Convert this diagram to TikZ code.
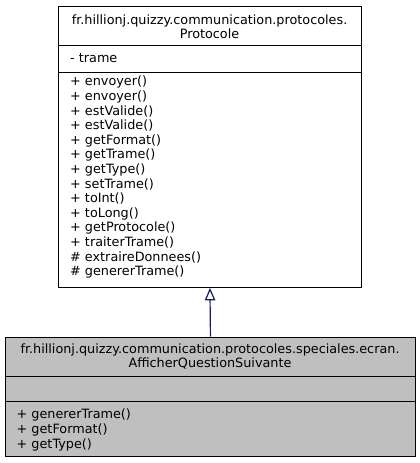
\documentclass[tikz,border=0pt]{standalone}
\usepackage{fontspec}
\setmainfont{DejaVu Sans}
\usetikzlibrary{arrows.meta}
\definecolor{edgeblue}{HTML}{191970}
\definecolor{derivfill}{HTML}{BFBFBF}
\tikzset{
  classbox/.style={draw=black, line width=0.9pt, anchor=north west, inner sep=0pt},
  sep/.style={draw=black, line width=0.9pt},
  txt/.style={font=\fontsize{12.8}{14.6}\selectfont, inner sep=0pt},
  members/.style={txt, align=left, anchor=north west},
  title/.style={font=\fontsize{12.8}{14.2}\selectfont, inner sep=0pt, align=center},
  inherit/.style={draw=edgeblue, line width=1.2pt, -{Triangle[open, length=12.5pt, width=10.5pt, fill=white]}},
}
\begin{document}
\begin{tikzpicture}[x=1pt, y=-1pt]
\useasboundingbox (0,0) rectangle (420,463);
% base class
\node[classbox, minimum width=303pt, minimum height=281.5pt] (base) at (58,5.5) {};
\draw[sep] (58,45) -- (361,45);
\draw[sep] (58,72.7) -- (361,72.7);
\node[title] (basetitle) at (209.5,26.5) {fr.hillionj.quizzy.communication.protocoles.\\Protocole};
\node[txt, anchor=west] (baseattr) at (70,58.5) {- trame};
\node[members] (basemeth) at (70,76) {+ envoyer()\\+ envoyer()\\+ estValide()\\+ estValide()\\+ getFormat()\\+ getTrame()\\+ getType()\\+ setTrame()\\+ toInt()\\+ toLong()\\+ getProtocole()\\+ traiterTrame()\\\# extraireDonnees()\\\# genererTrame()};
% derived class
\node[classbox, fill=derivfill, minimum width=410pt, minimum height=119.3pt] (deriv) at (5,336.7) {};
\draw[sep] (5,376.7) -- (415,376.7);
\draw[sep] (5,401.3) -- (415,401.3);
\node[title] (derivtitle) at (210,356.3) {fr.hillionj.quizzy.communication.protocoles.speciales.ecran.\\AfficherQuestionSuivante};
\node[members] (derivmeth) at (16.5,409) {+ genererTrame()\\+ getFormat()\\+ getType()};
% inheritance
\draw[inherit] (deriv.north) -- (base.south);
\end{tikzpicture}
\end{document}
